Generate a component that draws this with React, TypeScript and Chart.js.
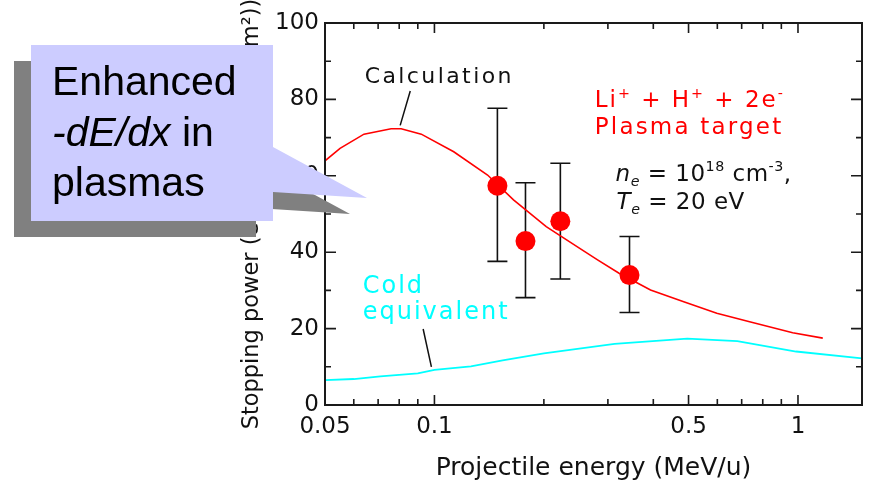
import React, { useEffect, useRef } from "react";
import { Chart, registerables } from "chart.js";

Chart.register(...registerables);

// ---- data ----
const calcEnergy = [0.05, 0.055, 0.064, 0.076, 0.081, 0.092, 0.113, 0.14, 0.165, 0.203, 0.251, 0.281, 0.322, 0.393, 0.485, 0.598, 0.736, 0.967, 1.17];
const calcPower = [63.9, 67.2, 70.9, 72.3, 72.3, 70.9, 66.3, 60.2, 53.7, 46.7, 41.0, 38.0, 34.5, 30.1, 27.0, 24.0, 21.8, 18.9, 17.5];

const coldEnergy = [0.05, 0.06, 0.071, 0.09, 0.1, 0.126, 0.154, 0.2, 0.313, 0.496, 0.681, 0.988, 1.5];
const coldPower = [6.5, 6.8, 7.5, 8.3, 9.2, 10.1, 11.7, 13.5, 16.0, 17.4, 16.7, 14.0, 12.2];

const measEnergy = [0.149, 0.178, 0.222, 0.344];
const measPower = [57.4, 42.9, 48.1, 34.0];
const measErrHigh = [77.7, 58.2, 63.3, 44.1];
const measErrLow = [37.6, 28.1, 33.0, 24.2];

const xTickLabels = [0.05, 0.1, 0.5, 1];
const xMajorTicks = [0.1, 0.5, 1];
const xMinorTicks = [0.06, 0.07, 0.08, 0.09, 0.2, 0.3, 0.4, 0.6, 0.7, 0.8, 0.9];
const yMajorTicks = [0, 20, 40, 60, 80, 100];
const yMinorTicks = [10, 30, 50, 70, 90];

// ---- styles ----
const FONT = "'DejaVu Sans', sans-serif";
const CALLOUT_FONT = "'Liberation Sans', Arial, sans-serif";
const RED = "#ff0000";
const CYAN = "#00ffff";
const INK = "#111111";

type Seg = { t: string; sup?: boolean; sub?: boolean; it?: boolean };

function drawRich(ctx: CanvasRenderingContext2D, segs: Seg[], x: number, y: number, size: number, family: string, color: string, spacing: number) {
  let cx = x;
  ctx.fillStyle = color;
  ctx.textBaseline = "alphabetic";
  ctx.textAlign = "left";
  for (const s of segs) {
    const fs = s.sup || s.sub ? size * 0.62 : size;
    ctx.font = `${s.it ? "italic " : ""}${fs}px ${family}`;
    (ctx as any).letterSpacing = spacing + "px";
    const dy = s.sup ? -size * 0.42 : s.sub ? size * 0.22 : 0;
    ctx.fillText(s.t, cx, y + dy);
    cx += ctx.measureText(s.t).width;
  }
  (ctx as any).letterSpacing = "0px";
}

const notesPlugin = {
  id: "notes",
  beforeDatasetsDraw(chart: any) {
    const { ctx, scales } = chart;
    const xs = scales.x, ys = scales.y;
    ctx.save();
    ctx.strokeStyle = INK;
    ctx.lineWidth = 1.6;
    for (let i = 0; i < measEnergy.length; i++) {
      const px = xs.getPixelForValue(measEnergy[i]);
      const top = ys.getPixelForValue(measErrHigh[i]);
      const bot = ys.getPixelForValue(measErrLow[i]);
      ctx.beginPath();
      ctx.moveTo(px, top); ctx.lineTo(px, bot);
      ctx.moveTo(px - 10, top); ctx.lineTo(px + 10, top);
      ctx.moveTo(px - 10, bot); ctx.lineTo(px + 10, bot);
      ctx.stroke();
    }
    ctx.restore();
  },
  afterDatasetsDraw(chart: any) {
    const { ctx, scales, chartArea } = chart;
    const xs = scales.x, ys = scales.y;
    const { left, right, top, bottom } = chartArea;
    ctx.save();
    // frame
    ctx.strokeStyle = "#1a1a1a";
    ctx.lineWidth = 2;
    ctx.strokeRect(left, top, right - left, bottom - top);
    // ticks (inward)
    ctx.lineWidth = 1.6;
    ctx.beginPath();
    const xt = (v: number, len: number) => {
      const p = xs.getPixelForValue(v);
      ctx.moveTo(p, bottom); ctx.lineTo(p, bottom - len);
      ctx.moveTo(p, top); ctx.lineTo(p, top + len);
    };
    const yt = (v: number, len: number) => {
      const p = ys.getPixelForValue(v);
      ctx.moveTo(left, p); ctx.lineTo(left + len, p);
      ctx.moveTo(right, p); ctx.lineTo(right - len, p);
    };
    xMajorTicks.forEach((v) => xt(v, 10));
    xMinorTicks.forEach((v) => xt(v, 6));
    yMajorTicks.forEach((v) => yt(v, 11));
    yMinorTicks.forEach((v) => yt(v, 6));
    ctx.stroke();

    // pointer lines
    ctx.strokeStyle = INK;
    ctx.lineWidth = 1.5;
    ctx.beginPath();
    ctx.moveTo(xs.getPixelForValue(0.0858), ys.getPixelForValue(82.2));
    ctx.lineTo(xs.getPixelForValue(0.0805), ys.getPixelForValue(73.2));
    ctx.moveTo(xs.getPixelForValue(0.0931), ys.getPixelForValue(19.9));
    ctx.lineTo(xs.getPixelForValue(0.0981), ys.getPixelForValue(10.0));
    ctx.stroke();

    // texts
    drawRich(ctx, [{ t: "Calculation" }], xs.getPixelForValue(0.0643), ys.getPixelForValue(84.3), 22, FONT, INK, 2.4);
    drawRich(ctx, [{ t: "Cold" }], xs.getPixelForValue(0.0635), ys.getPixelForValue(29.3), 24, FONT, CYAN, 2);
    drawRich(ctx, [{ t: "equivalent" }], xs.getPixelForValue(0.0635), ys.getPixelForValue(22.4), 24, FONT, CYAN, 2);
    drawRich(ctx, [
      { t: "Li" }, { t: "+", sup: true }, { t: " + H" }, { t: "+", sup: true }, { t: " + 2e" }, { t: "-", sup: true },
    ], xs.getPixelForValue(0.276), ys.getPixelForValue(77.9), 23, FONT, RED, 2);
    drawRich(ctx, [{ t: "Plasma target" }], xs.getPixelForValue(0.276), ys.getPixelForValue(70.9), 23, FONT, RED, 2.2);
    drawRich(ctx, [
      { t: "n", it: true }, { t: "e", sub: true, it: true }, { t: " = 10" }, { t: "18", sup: true }, { t: " cm" }, { t: "-3", sup: true }, { t: "," },
    ], xs.getPixelForValue(0.315), ys.getPixelForValue(58.6), 23, FONT, INK, 0.5);
    drawRich(ctx, [
      { t: "T", it: true }, { t: "e", sub: true, it: true }, { t: " = 20 eV" },
    ], xs.getPixelForValue(0.317), ys.getPixelForValue(51.3), 23, FONT, INK, 0.5);
    ctx.restore();
  },
  afterDraw(chart: any) {
    const { ctx } = chart;
    ctx.save();
    const shape = (dx: number, dy: number) => {
      ctx.beginPath();
      ctx.moveTo(31 + dx, 45 + dy);
      ctx.lineTo(273 + dx, 45 + dy);
      ctx.lineTo(273 + dx, 147 + dy);
      ctx.lineTo(367 + dx, 198 + dy);
      ctx.lineTo(273 + dx, 192 + dy);
      ctx.lineTo(273 + dx, 221 + dy);
      ctx.lineTo(31 + dx, 221 + dy);
      ctx.closePath();
    };
    ctx.fillStyle = "#808080";
    shape(-17, 16);
    ctx.fill();
    ctx.fillStyle = "#ccccff";
    shape(0, 0);
    ctx.fill();
    drawRich(ctx, [{ t: "Enhanced" }], 52, 95, 41, CALLOUT_FONT, "#000", 0);
    drawRich(ctx, [{ t: "-dE/dx", it: true }, { t: " in" }], 52, 146, 41, CALLOUT_FONT, "#000", 0);
    drawRich(ctx, [{ t: "plasmas" }], 52, 196, 41, CALLOUT_FONT, "#000", 0);
    ctx.restore();
  },
};

export default function App() {
  const ref = useRef<HTMLCanvasElement>(null);
  useEffect(() => {
    const canvas = ref.current;
    if (!canvas) return;
    const chart = new Chart(canvas, {
      type: "line",
      data: {
        datasets: [
          {
            label: "Calculation",
            data: calcEnergy.map((x, i) => ({ x, y: calcPower[i] })),
            borderColor: RED,
            borderWidth: 1.6,
            pointRadius: 0,
            fill: false,
            tension: 0,
          },
          {
            label: "Cold equivalent",
            data: coldEnergy.map((x, i) => ({ x, y: coldPower[i] })),
            borderColor: CYAN,
            borderWidth: 1.8,
            pointRadius: 0,
            fill: false,
            tension: 0,
          },
          {
            label: "Measured",
            data: measEnergy.map((x, i) => ({ x, y: measPower[i] })),
            showLine: false,
            pointRadius: 10,
            pointBackgroundColor: RED,
            pointBorderColor: RED,
            pointBorderWidth: 0,
          },
        ],
      },
      options: {
        responsive: false,
        animation: false,
        devicePixelRatio: 1,
        layout: { padding: { left: 0, right: 9, top: 23, bottom: 0 } },
        plugins: { legend: { display: false }, tooltip: { enabled: false } },
        scales: {
          x: {
            type: "logarithmic",
            min: 0.05,
            max: 1.5,
            grid: { display: false, drawTicks: false },
            border: { display: false },
            afterBuildTicks: (s: any) => {
              s.ticks = xTickLabels.map((v) => ({ value: v }));
            },
            afterFit: (s: any) => {
              s.height = 82;
            },
            ticks: {
              autoSkip: false,
              maxRotation: 0,
              padding: 8,
              color: INK,
              font: { family: FONT, size: 23 },
              callback: (v: any) => String(v),
            },
            title: {
              display: true,
              text: "Projectile energy (MeV/u)",
              color: INK,
              font: { family: FONT, size: 25 },
              padding: { top: 0, bottom: 4 },
            },
          },
          y: {
            type: "linear",
            min: 0,
            max: 100,
            grid: { display: false, drawTicks: false },
            border: { display: false },
            afterBuildTicks: (s: any) => {
              s.ticks = yMajorTicks.map((v) => ({ value: v }));
            },
            afterFit: (s: any) => {
              s.width = 325;
            },
            ticks: {
              padding: 6,
              color: INK,
              font: { family: FONT, size: 23 },
            },
            title: {
              display: true,
              text: "Stopping power (eV/(10¹⁵ atoms/cm²))",
              color: INK,
              font: { family: FONT, size: 22.5 },
              padding: { top: 239, bottom: 0 },
            },
          },
        },
      } as any,
      plugins: [notesPlugin],
    });
    return () => chart.destroy();
  }, []);
  return (
    <div style={{ position: "fixed", left: 0, top: 0, width: 872, height: 487, background: "#fff" }}>
      <canvas ref={ref} width={872} height={487} style={{ display: "block", width: 872, height: 487 }} />
    </div>
  );
}
